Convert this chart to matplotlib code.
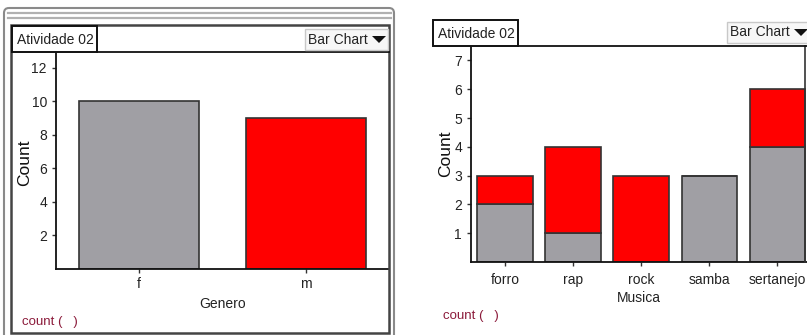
"""Recreate the two 'Atividade 02' bar charts (Genero and Musica counts)."""

import matplotlib
matplotlib.use("Agg")
import matplotlib.pyplot as plt
from matplotlib.patches import Rectangle, Polygon, FancyBboxPatch

plt.rcParams["font.family"] = ["Liberation Sans", "DejaVu Sans"]

# data
genero = ["f", "m"]
genero_count = [10, 9]

musica = ["forro", "rap", "rock", "samba", "sertanejo"]
musica_f = [2, 1, 0, 3, 4]
musica_m = [1, 3, 3, 0, 2]

GRAY = "#a09fa4"
RED = "#ff0000"
EDGE = "#333333"
TXT = "#222222"
COUNT_TXT = "#8b1a3a"

W, H = 807, 335


def px_axes(fig, x0, y0, x1, y1, **kw):
    """Add an axes given pixel corners (top-left origin)."""
    return fig.add_axes([x0 / W, 1 - y1 / H, (x1 - x0) / W, (y1 - y0) / H], **kw)


def style_axes(ax):
    for side in ("top", "right"):
        ax.spines[side].set_visible(False)
    for side in ("left", "bottom"):
        ax.spines[side].set_color("#111111")
        ax.spines[side].set_linewidth(1.3)
    ax.tick_params(direction="out", length=3, width=1, color="#333333",
                   labelsize=10, labelcolor=TXT)
    ax.set_facecolor("white")


def tab_and_button(ov, tab, button, line_y, line_x1):
    tx0, ty0, tx1, ty1 = tab
    ov.add_patch(Rectangle((tx0, ty0), tx1 - tx0, ty1 - ty0, fc="white",
                           ec="#111111", lw=1.4, zorder=5))
    ov.text(tx0 + 5, (ty0 + ty1) / 2 + 1, "Atividade 02", fontsize=10,
            color=TXT, va="center", ha="left", zorder=6)
    ov.plot([tx1, line_x1], [line_y, line_y], color="#111111", lw=1.3, zorder=5)

    bx0, by0, bx1, by1 = button
    ov.add_patch(Rectangle((bx0, by0), bx1 - bx0, by1 - by0, fc="#f7f7f7",
                           ec="#c8c8c8", lw=1, zorder=5))
    ov.text(bx0 + 3, (by0 + by1) / 2, "Bar Chart", fontsize=10, color=TXT,
            va="center", ha="left", zorder=6)
    ax_ = bx0 + 67
    ay = (by0 + by1) / 2
    ov.add_patch(Polygon([[ax_, ay - 3.5], [ax_ + 14, ay - 3.5], [ax_ + 7, ay + 3.5]],
                         closed=True, fc="#111111", ec="none", zorder=6))


fig = plt.figure(figsize=(W / 100, H / 100), dpi=100)
fig.patch.set_facecolor("white")

# left chart: Genero
ax1 = px_axes(fig, 56, 52, 389, 269)
style_axes(ax1)
ax1.bar(range(len(genero)), genero_count, width=0.72, color=[GRAY, RED],
        edgecolor=EDGE, linewidth=1.2)
ax1.set_xlim(-0.5, 1.5)
ax1.set_ylim(0, 12.95)
ax1.set_yticks([2, 4, 6, 8, 10, 12])
ax1.set_xticks(range(len(genero)))
ax1.set_xticklabels(genero)
ax1.tick_params(axis="x", pad=3)
ax1.set_xlabel("Genero", fontsize=10, color=TXT, labelpad=4)
ax1.set_ylabel("Count", fontsize=12.5, color="#111111")
ax1.yaxis.set_label_coords(-0.073, 0.49)

# right chart: Musica (stacked)
ax2 = px_axes(fig, 471, 46, 807, 262)
style_axes(ax2)
pos = range(len(musica))
ax2.bar(pos, musica_f, width=0.81, color=GRAY, edgecolor=EDGE, linewidth=1.2)
ax2.bar(pos, musica_m, width=0.81, bottom=musica_f, color=RED,
        edgecolor=EDGE, linewidth=1.2)
ax2.set_xlim(-0.5, 4.44)
ax2.set_ylim(0, 7.5)
ax2.set_yticks(range(1, 8))
ax2.set_xticks(list(pos))
ax2.set_xticklabels(musica)
ax2.tick_params(axis="x", pad=5)
ax2.set_xlabel("Musica", fontsize=10, color=TXT, labelpad=3)
ax2.set_ylabel("Count", fontsize=12.5, color="#111111")
ax2.yaxis.set_label_coords(-0.052, 0.5)

# overlay for frames, tabs and buttons
ov = fig.add_axes([0, 0, 1, 1], zorder=10)
ov.set_xlim(0, W)
ov.set_ylim(H, 0)
ov.axis("off")
ov.patch.set_alpha(0)

# left window frame
ov.add_patch(FancyBboxPatch((4, 8), 390, 340, boxstyle="round,pad=0,rounding_size=5",
                            fc="none", ec="#8a8a8a", lw=1.5, zorder=1))
for y in (12.5, 17.5):
    ov.plot([8, 391], [y, y], color="#b0b0b0", lw=1.6, zorder=1)
ov.add_patch(Rectangle((11, 25), 378, 308, fc="none", ec="#444444", lw=1.8, zorder=4))

tab_and_button(ov, (12, 26, 97, 52), (305, 29, 388, 50), 52, 389)
ov.text(22, 322, "count (   )", fontsize=9.5, color=COUNT_TXT, va="center",
        ha="left")

tab_and_button(ov, (433, 20, 518, 46), (727, 22, 812, 43), 46, 807)
ov.plot([805, 805], [46, 262], color="#333333", lw=1.2, zorder=4)
ov.text(443, 316, "count (   )", fontsize=9.5, color=COUNT_TXT, va="center",
        ha="left")

fig.savefig("out.png", dpi=100)
